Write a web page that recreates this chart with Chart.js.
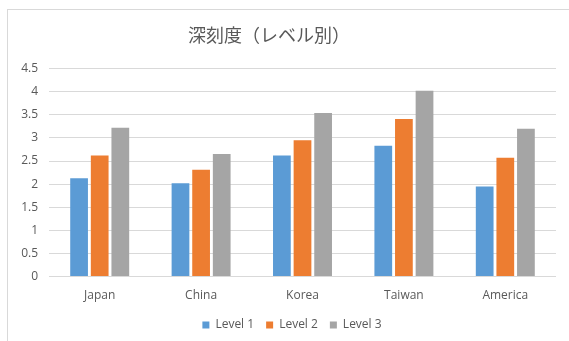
<!DOCTYPE html>
<html>
<head>
<meta charset="utf-8">
<script src="https://cdn.jsdelivr.net/npm/chart.js@4/dist/chart.umd.min.js"></script>
<style>
  html, body { margin: 0; padding: 0; background: #fff; }
  #wrap { position: relative; width: 569px; height: 341px; overflow: hidden; }
  #frame { position: absolute; left: 7px; top: 9px; width: 600px; height: 400px;
    border-top: 1px solid #d9d9d9; border-left: 1px solid #d9d9d9; pointer-events: none; }
  canvas { position: absolute; left: 0; top: 0; }
</style>
</head>
<body>
<div id="wrap">
  <canvas id="chart" width="569" height="341"></canvas>
  <div id="frame"></div>
</div>
<script>
// values
const countries = ['Japan', 'China', 'Korea', 'Taiwan', 'America'];
const level1 = [2.13, 2.02, 2.62, 2.83, 1.95];
const level2 = [2.62, 2.31, 2.95, 3.41, 2.57];
const level3 = [3.22, 2.65, 3.54, 4.02, 3.20];
const seriesNames = ['Level 1', 'Level 2', 'Level 3'];
const seriesColors = ['#5b9bd5', '#ed7d31', '#a5a5a5'];

const textColor = '#595959';
const baseFont = "'Open Sans', 'Noto Sans', sans-serif";

// the title sits a bit left of centre, the legend a bit right
const nudge = {
  id: 'nudge',
  afterLayout(chart) {
    if (chart.titleBlock) { chart.titleBlock.left -= 13; chart.titleBlock.right -= 13; }
    if (chart.legend) { chart.legend.left += 10; chart.legend.right += 10; }
  }
};

const ctx = document.getElementById('chart');
new Chart(ctx, {
  type: 'bar',
  data: {
    labels: countries,
    datasets: [level1, level2, level3].map((d, i) => ({
      label: seriesNames[i],
      data: d,
      backgroundColor: seriesColors[i],
      borderWidth: 0,
      categoryPercentage: 0.61,
      barPercentage: 0.86
    }))
  },
  options: {
    responsive: false,
    animation: false,
    layout: { padding: { left: 8, right: 13, top: 0, bottom: 0 } },
    plugins: {
      title: {
        display: true,
        text: '深刻度（レベル別）',
        color: textColor,
        font: { family: "'Noto Sans CJK JP', sans-serif", size: 18, weight: 'normal' },
        padding: { top: 24, bottom: 23 }
      },
      legend: {
        position: 'bottom',
        labels: {
          color: textColor,
          boxWidth: 7,
          boxHeight: 7,
          padding: 12,
          font: { family: baseFont, size: 12 }
        }
      },
      tooltip: { enabled: false }
    },
    scales: {
      x: {
        grid: { display: false },
        border: { display: false },
        ticks: { color: textColor, font: { family: baseFont, size: 12 }, padding: 4 }
      },
      y: {
        min: 0,
        max: 4.5,
        afterFit: s => { s.width = 41; },
        grid: { color: '#d9d9d9', drawTicks: false },
        border: { display: false },
        ticks: {
          stepSize: 0.5,
          color: textColor,
          font: { family: baseFont, size: 12 },
          padding: 11,
          callback: v => String(v)
        }
      }
    }
  },
  plugins: [nudge]
});
</script>
</body>
</html>
